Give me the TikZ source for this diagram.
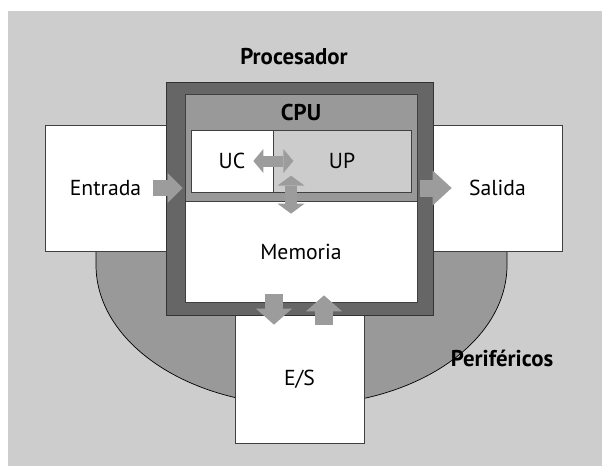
\documentclass[tikz,border=0pt]{standalone}
\usepackage{fontspec}
\setmainfont{PT Sans}
\usetikzlibrary{arrows.meta,calc}
\definecolor{fondo}{HTML}{CDCDCD}
\definecolor{oscuro}{HTML}{666666}
\definecolor{medio}{HTML}{999999}
\definecolor{claro}{HTML}{CCCCCC}
\definecolor{gris}{HTML}{9C9C9C}

\begin{document}
\begin{tikzpicture}[x=0.03cm,y=-0.03cm,
    caja/.style={draw=black!75,line width=0.6pt,inner sep=0pt,font=\fontsize{18.5}{21}\selectfont},
    titulo/.style={font=\fontsize{19.5}{22}\selectfont\bfseries},
    bloque/.style n args={3}{draw=gris,line width=#1,-{Triangle[width=#2,length=#3,line width=0pt]}},
    bloques/.style n args={3}{draw=gris,line width=#1,{Triangle[width=#2,length=#3,line width=0pt]}-{Triangle[width=#2,length=#3,line width=0pt]}}]
    \useasboundingbox (0,0) rectangle (602,466);
    \fill[fondo] (8,11) rectangle (602,466);
    \filldraw[fill=medio,draw=black,line width=0.6pt] (96,251) -- (96,265)
      arc[start angle=180,end angle=360,x radius=6.165cm,y radius=4.2cm] -- (507,251) -- cycle;
    \node[caja,fill=white,minimum width=3.63cm,minimum height=3.78cm] (Ent) at (105.5,188) {Entrada};
    \node[caja,fill=white,minimum width=3.87cm,minimum height=3.78cm] (Sal) at (497.5,188) {Salida};
    \node[caja,fill=white,minimum width=3.87cm,minimum height=3.84cm] (ES)  at (299.5,379) {E/S};
    \node[caja,fill=oscuro,draw=black!80,minimum width=8.01cm,minimum height=6.99cm] (Proc) at (299.5,198.5) {};
    \node[caja,fill=medio,minimum width=6.96cm,minimum height=3.21cm] (CPU) at (301,147.5) {};
    \node[caja,fill=white,minimum width=6.96cm,minimum height=3.03cm] (Mem) at (301,251.5) {Memoria};
    \node[caja,fill=white,minimum width=2.46cm,minimum height=1.86cm] (UC)  at (232,161) {UC};
    \node[caja,fill=claro,minimum width=4.14cm,minimum height=1.86cm] (UP)  at (342,161) {UP};
    \node[titulo] (tProc) at (294,57) {Procesador};
    \node[titulo] (tCPU)  at (301,113) {CPU};
    \node[titulo] (tPer)  at (502,358) {Periféricos};
    \draw[bloque={0.48cm}{0.9cm}{0.45cm}] ($(Ent.east)+(-13,0)$) -- ($(Ent.east -| CPU.west)+(-2,0)$);
    \draw[bloque={0.51cm}{1.05cm}{0.57cm}] ($(Sal.west)+(-13,0)$) -- ($(Sal.west)+(19,0)$);
    \draw[bloques={0.33cm}{0.72cm}{0.3cm}] ($(UC.east)+(-20,0)$) -- ($(UC.east)+(20,0)$);
    \draw[bloques={0.36cm}{0.81cm}{0.3cm}] ($(Mem.north)+(-10,-25)$) -- ($(Mem.north)+(-10,13)$);
    \draw[bloque={0.54cm}{1.08cm}{0.48cm}] ($(Mem.south)+(-27,-8)$) -- ($(ES.north)+(-25.5,10)$);
    \draw[bloque={0.54cm}{1.08cm}{0.48cm}] ($(ES.north)+(24.5,10)$) -- ($(Mem.south)+(23,-7)$);
\end{tikzpicture}
\end{document}
